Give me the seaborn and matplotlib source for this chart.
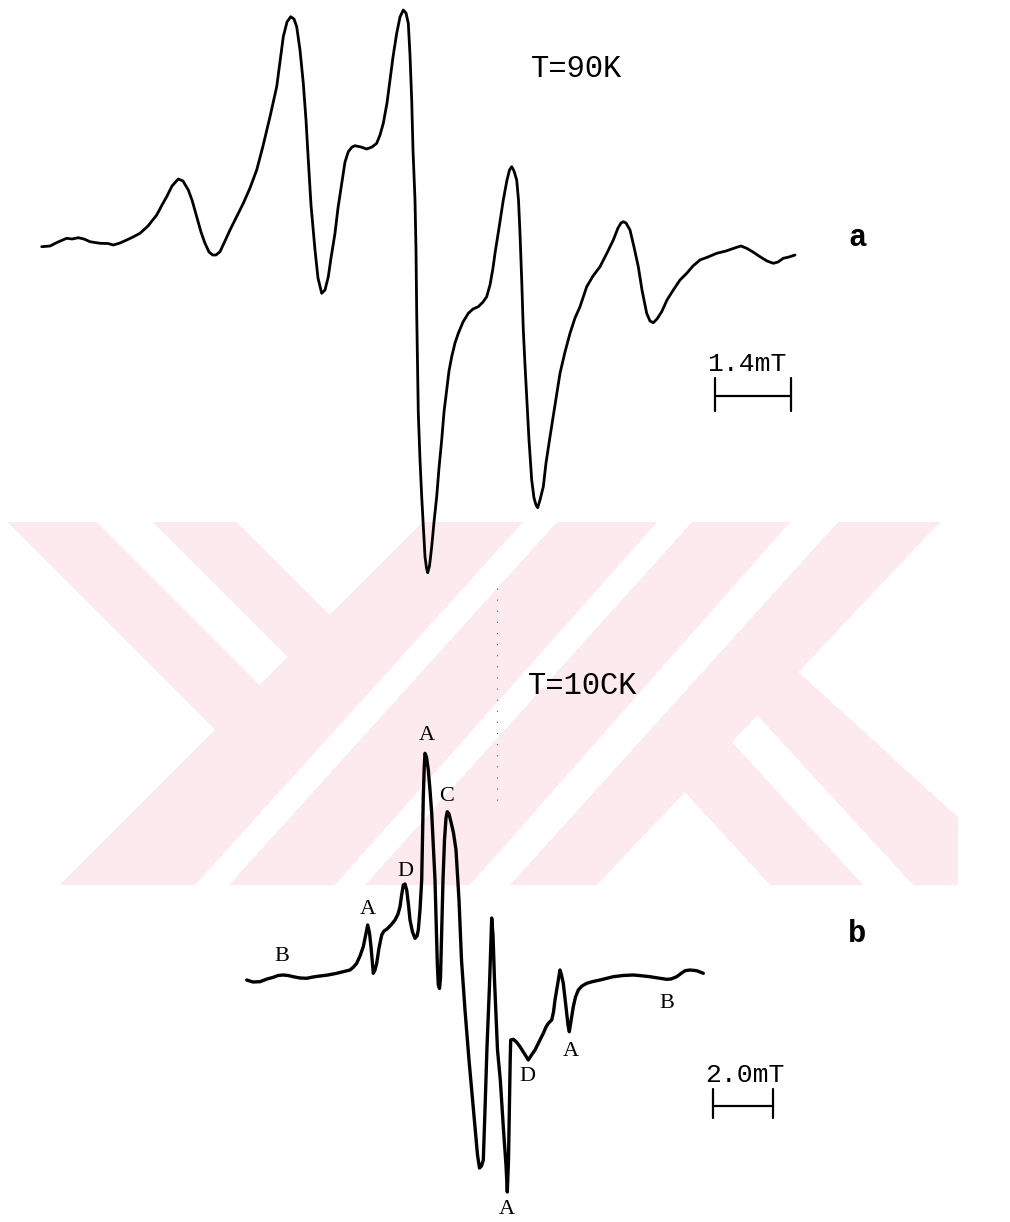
import numpy as np
import pandas as pd
import matplotlib
matplotlib.use("Agg")
import matplotlib.pyplot as plt
import seaborn as sns

# ---------------- data (page-pixel coordinates) ----------------
trace_a_x = [41.7, 50, 58, 66.7, 72, 78.3, 84, 90, 100, 108, 113.3, 120, 126.7, 133, 140, 148, 156.7, 162,
             166.7, 172, 178.3, 183, 188.3, 192, 196.7, 201, 205, 209, 212.7, 216, 220, 225, 230, 236, 243.3,
             250, 256.7, 263, 270, 276.7, 280, 283.3, 287, 290.7, 294, 296.7, 300, 303.3, 306, 308.3, 311, 315,
             318, 321.7, 325, 328.3, 331, 335, 338, 341.7, 345, 348.3, 352, 355, 361, 366.7, 372, 376.7, 380,
             383.3, 387, 390, 393, 396.7, 400, 403.3, 406, 408.3, 410, 411.7, 413, 415, 416, 416.7, 418.3, 420,
             421.7, 423.5, 425, 426.5, 427.7, 429.5, 431.7, 434, 436.7, 439, 441.7, 444, 446.7, 449, 451.7, 455,
             458.3, 463, 468.3, 473, 478.3, 483, 486.7, 490, 493, 495, 499, 503.3, 507, 509.5, 511.7, 514,
             516.7, 518.5, 520, 521.7, 523.3, 525, 526.7, 529, 531.7, 534, 536, 537.7, 540, 543.3, 546, 550,
             555, 560, 565, 570, 575, 580, 586.7, 593, 600, 607, 613.3, 618, 621, 623.3, 626, 630, 634, 638.3,
             642, 646.7, 650, 653.3, 657, 661.7, 667, 673.3, 680, 686.7, 693, 700, 708, 716.7, 726, 736.7,
             741, 746.7, 753, 760, 767, 773.3, 778, 783.3, 789, 795]
trace_a_y = [246.7, 246, 242, 238.3, 239, 237.7, 239, 241.7, 243.3, 243.5, 245, 243, 240, 237, 233.3, 226, 215,
             205, 196.7, 186, 179, 181, 190, 200, 216.7, 232, 243.3, 252, 255, 255, 251.7, 241, 230, 218, 203.3,
             188, 170, 146, 116.7, 86.7, 62, 36.7, 22, 16.7, 19, 26.7, 50, 83.3, 120, 160, 205, 250, 278,
             293.3, 290, 276.7, 258, 233.3, 208, 183.3, 162, 151.7, 147, 145.7, 147, 149, 147, 143.3, 135,
             123.3, 103, 80, 57, 33.3, 17, 10, 13, 23.3, 55, 100, 150, 200, 250, 313, 413, 460, 496.7, 530,
             556.7, 568, 572.7, 566, 546.7, 522, 496.7, 468, 440, 412, 390, 371, 356.7, 343, 333.3, 322,
             313.3, 309, 306.7, 302, 296.7, 285, 268, 253.3, 228, 200, 180, 170, 166.7, 171, 180, 200, 233.3,
             280, 330, 365, 396.7, 440, 480, 498, 505, 507.7, 500, 486.7, 463, 436.7, 405, 373.3, 352, 333.3,
             318, 306.7, 286.7, 276, 266.7, 253, 240, 228, 223, 221.7, 223, 230, 247, 266.7, 290, 313.3, 321,
             322.7, 319, 311.7, 300, 290, 280, 273.3, 266, 260, 257, 253.3, 251, 247.3, 246, 248.3, 252,
             256.7, 261, 263.3, 262, 258.3, 257, 255]

trace_b_x = [246.7, 253, 260, 267, 273.3, 278, 283.3, 288, 293.3, 300, 306.7, 313, 320, 328, 336.7, 344, 350,
             353.5, 356.7, 360, 363.3, 365.5, 367.7, 369.5, 371, 372.3, 373.3, 375, 376.7, 379, 381.7, 384,
             386.7, 391, 395, 398, 400, 401.5, 403.3, 405, 406.7, 408.5, 410, 412.5, 415, 417, 418.3, 420,
             421.7, 422.5, 423.3, 424.2, 425, 426.5, 428.3, 430, 431.7, 433.3, 435, 436.3, 437.3, 438.3, 439.5,
             440.5, 441.5, 443, 444.5, 446, 447.3, 449, 451, 453.5, 456, 459, 461.5, 465, 469, 473.5, 477.5,
             479.5, 481.5, 483.3, 485, 487, 489.5, 491.7, 493, 494.5, 497.5, 500.3, 503.5, 506, 507.3, 508.5,
             509.3, 510.2, 510.7, 513.3, 516.5, 520, 524, 528.3, 531.5, 535, 539, 543.3, 546, 548.3, 551.7,
             553.5, 555, 557.5, 560, 561.5, 563.3, 565, 566.7, 568, 569.3, 571, 573.3, 575.5, 578.3, 582,
             586.7, 593, 600, 606, 613.3, 623, 633.3, 641, 650, 658, 666.7, 671, 676.7, 681, 685, 690, 696.7,
             703.3]
trace_b_y = [980, 982, 981.7, 979, 977.3, 975.5, 975, 975.5, 976.7, 978, 978.3, 977, 976, 975, 973.3, 971.5,
             970, 967, 963.3, 956, 946.7, 936, 925, 933, 946.7, 962, 973.3, 970, 963.3, 948, 935, 931, 929.3,
             925, 920, 914, 906.7, 896, 885, 884, 890, 905, 920, 932, 938.3, 936, 930, 910, 880, 840, 796.7,
             768, 753.3, 757, 770, 790, 813, 846, 880, 925, 963.3, 985, 988.5, 978, 940, 880, 840, 818, 811.7,
             814, 822, 833, 850, 900, 960, 1010, 1060, 1110, 1155, 1168, 1166, 1160, 1110, 1046.7, 985, 918,
             935, 980, 1050, 1080, 1130, 1165, 1192, 1160, 1113, 1060, 1040, 1039.3, 1042, 1046.7, 1053, 1060,
             1055, 1050, 1042, 1033.3, 1027, 1023.3, 1020, 1012, 1000, 985, 970, 975, 983.3, 998, 1013.3,
             1025, 1031.7, 1021, 1006.7, 997, 990, 986, 983.3, 981.5, 980, 978.5, 976.7, 975.5, 975, 975.7,
             976.7, 978, 979.3, 979, 976.7, 973.5, 970.7, 970, 970.7, 973.3]

peak_labels = ["B", "A", "D", "A", "C", "A", "D", "A", "B"]
peak_label_x = [281.7, 367.7, 405, 427.3, 446.7, 507.3, 527.3, 570.7, 666.7]
peak_label_y = [956.7, 910, 871.7, 736, 796.7, 1210, 1076.7, 1051.7, 1003.3]

temperatures = ["T=90K", "T=10CK"]
panel_names = ["a", "b"]
scale_labels = ["1.4mT", "2.0mT"]

# ---------------- figure ----------------
sns.set_theme(style="white")
plt.rcParams["font.family"] = ["Liberation Mono", "DejaVu Sans"]

W, H = 1010, 1222
fig = plt.figure(figsize=(W / 100, H / 100), dpi=100)
ax = fig.add_axes([0, 0, 1, 1])

# faint watermark of the scanned page (decoration)
yy, xx = np.mgrid[0:H, 0:W] + 0.5
def edge(top, bot):
    return top + (bot - top) * (yy - 522) / 363.0
band_rows = (yy >= 522) & (yy <= 885)
left_of_A = xx < edge(423, 60)
P1 = (xx > edge(7, 370)) & (xx < edge(97, 460)) & left_of_A
P2 = (xx > edge(152, 515)) & (xx < edge(237, 600)) & left_of_A
BA = (~left_of_A) & (xx < edge(523, 195))
BB = (xx > edge(557, 229)) & (xx < edge(657, 335))
BC = (xx > edge(692, 365)) & (xx < edge(790, 470))
BD = (xx > edge(838, 510)) & (xx < edge(940, 597))
right_big = xx >= edge(940, 597)
K1 = right_big & (xx > edge(580, 913)) & (xx < edge(634, 1032))
K2 = right_big & (xx > edge(437, 770)) & (xx < edge(530, 863))
pink = band_rows & (P1 | P2 | BA | BB | BC | BD | K1 | K2) & (xx < 958)
img = np.ones((H, W, 3))
img[pink] = np.array([253, 234, 238]) / 255.0
ax.imshow(img, extent=[0, W, H, 0], zorder=0, interpolation="nearest", aspect="auto")

# faint dotted guide left by the scan
ax.plot([497, 497], [588, 805], color="#555555", lw=0.8, ls=(0, (1, 9)), zorder=1)

# spectra
df_a = pd.DataFrame({"field": trace_a_x, "signal": trace_a_y})
df_b = pd.DataFrame({"field": trace_b_x, "signal": trace_b_y})
sns.lineplot(data=df_a, x="field", y="signal", sort=False, estimator=None,
             color="black", linewidth=2.0, ax=ax, zorder=3)
sns.lineplot(data=df_b, x="field", y="signal", sort=False, estimator=None,
             color="black", linewidth=2.4, ax=ax, zorder=3)

# peak labels
for lab, x, y in zip(peak_labels, peak_label_x, peak_label_y):
    ax.text(x, y, lab, ha="center", va="center", fontsize=16,
            family=["Liberation Serif", "DejaVu Serif"], color="black", zorder=4)

# temperatures
ax.text(576, 69, temperatures[0], ha="center", va="center", fontsize=22, color="black")
ax.text(583, 686, temperatures[1], ha="center", va="center", fontsize=22, color="black")

# panel letters
ax.text(857, 238, panel_names[0], ha="center", va="center", fontsize=22, fontweight="bold", color="black")
ax.text(857, 934, panel_names[1], ha="center", va="center", fontsize=22, fontweight="bold", color="black")

# scale bars
ax.text(747, 364, scale_labels[0], ha="center", va="center", fontsize=19, color="black")
ax.plot([715, 715], [378, 411], color="black", lw=1.6)
ax.plot([791, 791], [378, 411], color="black", lw=1.6)
ax.plot([715, 791], [396, 396], color="black", lw=1.6)

ax.text(745, 1075, scale_labels[1], ha="center", va="center", fontsize=19, color="black")
ax.plot([713, 713], [1089, 1118], color="black", lw=1.6)
ax.plot([773, 773], [1089, 1118], color="black", lw=1.6)
ax.plot([713, 773], [1106, 1106], color="black", lw=1.6)

ax.set_xlim(0, W)
ax.set_ylim(H, 0)
ax.set_axis_off()
if ax.get_legend() is not None:
    ax.get_legend().remove()

fig.savefig("out.png", dpi=100, facecolor="white")
